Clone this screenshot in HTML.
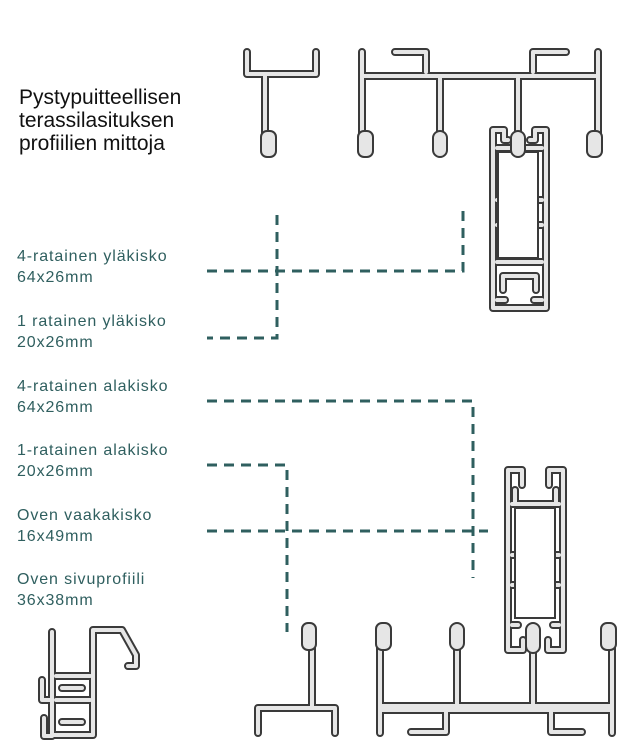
<!DOCTYPE html>
<html><head><meta charset="utf-8"><style>
html,body{margin:0;padding:0;background:#fff;width:642px;height:749px;overflow:hidden}
svg{position:absolute;left:0;top:0}
.o{fill:none;stroke:#3a3a3a;stroke-width:8;stroke-linecap:round;stroke-linejoin:round}
.i{fill:none;stroke:#e6e6e6;stroke-width:4;stroke-linecap:round;stroke-linejoin:round}
.b{fill:#e6e6e6;stroke:#3a3a3a;stroke-width:2}
.d{fill:none;stroke:#2f5f5f;stroke-width:3;stroke-dasharray:10 7}
.t{font-family:"Liberation Sans",sans-serif;font-size:21px;fill:#111}
.l{font-family:"Liberation Sans",sans-serif;font-size:16px;fill:#2f5f5f;letter-spacing:0.9px}
</style></head><body>
<svg width="642" height="749" viewBox="0 0 642 749">
<defs>
<g id="p1">
 <path d="M247 52 V74 H316 V52 M265 74 V140"/>
 <path d="M362 52 V145 M362 76 H598 M598 52 V145 M440 76 V140 M518 76 V140"/>
 <path d="M395 52 H426 V72 M533 72 V52 H566"/>
 <path d="M493 130 V308 H546 V130 H535 V140 H530 M493 130 H504 V140 H508"/>
 <path d="M497 148 H542 M497 262 H542 M497 200 H501 M497 225 H501 M542 200 H538 M542 225 H538"/>
 <path d="M503 276 V290 M536 276 V290 M503 276 H536 M497 300 H505 M542 300 H534"/>
 <path d="M312 640 V708 M258 708 H335 M258 708 V733 M335 708 V733"/>
 <path d="M380 640 V733 M380 706 H612 M612 640 V733 M457 640 V705 M533 645 V705 M380 710 H612"/>
 <path d="M446 712 V732 H411 M551 712 V732 H582"/>
 <path d="M508 470 V650 H523 V640 M563 470 H549 V485 M563 470 V650 H548 V640 M508 470 H522 V485"/>
 <path d="M512 504 H559 M515 490 V504 M556 490 V504 M512 555 H516 M512 585 H516 M559 555 H555 M559 585 H555 M512 625 H518 M559 625 H553"/>
 <path d="M52 632 V735 H93 V630 H122 L136 655 V666 H128"/>
 <path d="M56 676 H90 M56 700 H90 M42 680 V700 H50 M44 718 V736 H52 M62 688 H82 M62 722 H82"/>
</g>
</defs>
<use href="#p1" class="o"/>
<use href="#p1" class="i"/>
<rect x="498" y="152" width="40" height="106" fill="#fff" stroke="#3a3a3a" stroke-width="2"/>
<rect x="515" y="508" width="40" height="110" fill="#fff" stroke="#3a3a3a" stroke-width="2"/>
<!-- bulbs top -->
<rect class="b" x="261" y="131" width="15" height="26" rx="6"/>
<rect class="b" x="358" y="131" width="15" height="26" rx="6"/>
<rect class="b" x="433" y="131" width="14" height="26" rx="7"/>
<rect class="b" x="511" y="131" width="14" height="26" rx="7"/>
<rect class="b" x="587" y="131" width="15" height="26" rx="6"/>
<!-- bulbs bottom -->
<rect class="b" x="302" y="623" width="14" height="27" rx="6"/>
<rect class="b" x="376" y="623" width="15" height="27" rx="6"/>
<rect class="b" x="450" y="623" width="14" height="27" rx="7"/>
<rect class="b" x="526" y="623" width="14" height="30" rx="7"/>
<rect class="b" x="601" y="623" width="15" height="27" rx="6"/>

<path class="d" d="M207 271 H463 V210"/>
<path class="d" d="M277 215 V338 H207"/>
<path class="d" d="M207 401 H473 V578"/>
<path class="d" d="M207 465 H287 V632"/>
<path class="d" d="M207 531 H488"/>

<text class="t" x="19" y="104">Pystypuitteellisen</text>
<text class="t" x="19" y="127">terassilasituksen</text>
<text class="t" x="19" y="150">profiilien mittoja</text>

<text class="l" x="17" y="261">4-ratainen yläkisko</text>
<text class="l" x="17" y="282">64x26mm</text>
<text class="l" x="17" y="326">1 ratainen yläkisko</text>
<text class="l" x="17" y="347">20x26mm</text>
<text class="l" x="17" y="391">4-ratainen alakisko</text>
<text class="l" x="17" y="412">64x26mm</text>
<text class="l" x="17" y="455">1-ratainen alakisko</text>
<text class="l" x="17" y="476">20x26mm</text>
<text class="l" x="17" y="520">Oven vaakakisko</text>
<text class="l" x="17" y="541">16x49mm</text>
<text class="l" x="17" y="584">Oven sivuprofiili</text>
<text class="l" x="17" y="605">36x38mm</text>
</svg>
</body></html>
